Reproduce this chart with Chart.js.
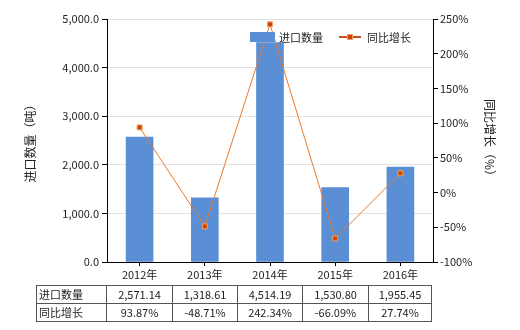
<!DOCTYPE html>
<html><head><meta charset="utf-8">
<script src="https://cdn.jsdelivr.net/npm/chart.js@4/dist/chart.umd.min.js"></script>
<style>
html,body{margin:0;padding:0;background:#fff;}
#wrap{position:relative;width:520px;height:330px;font-family:"Noto Sans CJK SC","Microsoft YaHei",sans-serif;}
#c{position:absolute;left:0;top:0;}
#legend{position:absolute;left:250px;top:29px;font-size:11px;color:#222;display:flex;align-items:center;height:16px;}
#legend .box{width:25px;height:10px;background:#5A8FD6;margin-right:4px;}
#legend .ln{position:relative;width:22px;height:2px;background:#C8501A;margin-left:16px;margin-right:6px;}
#legend .ln i{position:absolute;left:8px;top:-2px;width:6px;height:6px;background:#CC4400;box-sizing:border-box;border:1px solid #F0A060;}
table{position:absolute;left:36px;top:285px;border-collapse:collapse;font-size:11px;color:#222;}
td{border:1px solid #555;height:17px;padding:0;text-align:center;line-height:17px;}
td.h{text-align:left;padding-left:2px;}
</style></head>
<body><div id="wrap"><canvas id="c" width="520" height="330"></canvas>
<div id="legend"><span class="box"></span><span>进口数量</span><span class="ln"><i></i></span><span>同比增长</span></div>
<table id="tbl"></table></div>
<script>
const categories = ["2012年","2013年","2014年","2015年","2016年"];
const importQty = [2571.14, 1318.61, 4514.19, 1530.80, 1955.45];
const yoyGrowth = [93.87, -48.71, 242.34, -66.09, 27.74];
const qtyLabel = "进口数量";
const growthLabel = "同比增长";
const leftTitle = "进口数量（吨）";
const rightTitle = "同比增长（%）";

const font = {family:'"Noto Sans CJK SC", sans-serif', size:11};
const fmtQty = v => v.toLocaleString('en-US',{minimumFractionDigits:1,maximumFractionDigits:1});

new Chart(document.getElementById('c'), {
  data: {
    labels: categories,
    datasets: [
      {type:'line', label:growthLabel, data:yoyGrowth, yAxisID:'y1', borderColor:'#E8792C', borderWidth:1,
       pointStyle:'rect', pointRadius:3.5, pointBackgroundColor:'#CC4400', pointBorderColor:'#F5A060', pointBorderWidth:1, order:0},
      {type:'bar', label:qtyLabel, data:importQty, yAxisID:'y', backgroundColor:'#5A8FD6', barThickness:27, order:1}
    ]
  },
  options: {
    responsive:false, animation:false,
    layout:{padding:{top:19,left:0,right:0,bottom:0}},
    plugins:{legend:{display:false}, tooltip:{enabled:false}},
    scales:{
      x:{ grid:{display:true, drawOnChartArea:false, offset:false, tickLength:4, color:'#000'},
          border:{color:'#000'},
          ticks:{font:font, color:'#222', padding:2},
          afterFit:s=>{s.height=68;} },
      y:{ position:'left', min:0, max:5000,
          ticks:{stepSize:1000, font:font, color:'#222', padding:3, callback:v=>fmtQty(v)},
          grid:{color:'#E2E2E2', tickColor:'#000', tickLength:5},
          border:{color:'#000'},
          title:{display:true, text:leftTitle, font:{family:font.family,size:12}, color:'#222', padding:{top:23,bottom:0}},
          afterFit:s=>{s.width=107;} },
      y1:{ position:'right', min:-100, max:250,
          ticks:{stepSize:50, font:font, color:'#222', padding:2, callback:v=>v+'%'},
          grid:{drawOnChartArea:false, tickColor:'#000', tickLength:5},
          border:{color:'#000'},
          title:{display:true, text:rightTitle, font:{family:font.family,size:12}, color:'#222', padding:{top:23,bottom:0}},
          afterFit:s=>{s.width=87;} }
    }
  }
});

const tbl = document.getElementById('tbl');
const widths = [70,66,65,65,66,63];
function row(name, vals){
  const tr = document.createElement('tr');
  const h = document.createElement('td'); h.className='h'; h.textContent=name; h.style.width=(widths[0]-3)+'px'; tr.appendChild(h);
  vals.forEach((v,i)=>{const td=document.createElement('td'); td.textContent=v; td.style.width=(widths[i+1]-1)+'px'; tr.appendChild(td);});
  tbl.appendChild(tr);
}
row(qtyLabel, importQty.map(v=>v.toLocaleString('en-US',{minimumFractionDigits:2,maximumFractionDigits:2})));
row(growthLabel, yoyGrowth.map(v=>v.toFixed(2)+'%'));
</script></body></html>
